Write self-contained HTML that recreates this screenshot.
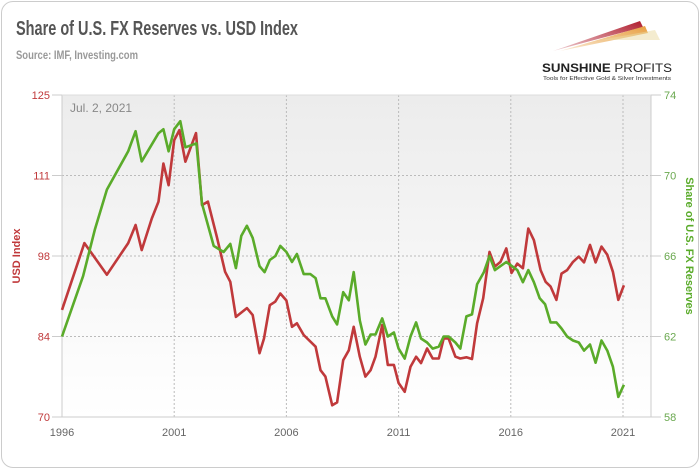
<!DOCTYPE html>
<html><head><meta charset="utf-8"><style>
html,body{margin:0;padding:0;background:#fff;}
body{width:700px;height:469px;overflow:hidden;font-family:"Liberation Sans",sans-serif;}
#card{position:absolute;left:1px;top:1px;width:696px;height:465px;border:1px solid #ccc;border-radius:12px;background:#fff;}
</style></head><body>
<div id="card"></div>
<svg id="chart" width="700" height="469" style="position:absolute;left:0;top:0">
<defs>
<linearGradient id="bg" x1="0" y1="0" x2="0" y2="1"><stop offset="0" stop-color="#ececec"/><stop offset="1" stop-color="#ffffff"/></linearGradient>
<linearGradient id="sw1" x1="0" y1="1" x2="1" y2="0"><stop offset="0" stop-color="#b01e2e" stop-opacity="0.2"/><stop offset="1" stop-color="#b01e2e"/></linearGradient>
<linearGradient id="sw2" x1="0" y1="1" x2="1" y2="0"><stop offset="0" stop-color="#e8a040" stop-opacity="0.2"/><stop offset="1" stop-color="#e8a040"/></linearGradient>
</defs>
<text x="16" y="35" font-size="20" font-weight="bold" fill="#555" textLength="282" lengthAdjust="spacingAndGlyphs">Share of U.S. FX Reserves vs. USD Index</text>
<text x="16" y="59" font-size="12" font-weight="bold" fill="#999" textLength="122" lengthAdjust="spacingAndGlyphs">Source: IMF, Investing.com</text>
<g>
<path d="M553,51 L640,21 L643,27 Z" fill="url(#sw1)"/>
<path d="M560,51 L645,26 L648,33 Z" fill="url(#sw2)"/>
<path d="M600,40 L655,30 L660,40 Z" fill="#e9d9a0" opacity="0.5"/>
<text x="542" y="72" font-size="12" font-weight="bold" fill="#222" textLength="130" lengthAdjust="spacingAndGlyphs">SUNSHINE <tspan font-weight="normal">PROFITS</tspan></text>
<text x="543" y="80" font-size="5.5" fill="#333" textLength="128" lengthAdjust="spacingAndGlyphs">Tools for Effective Gold &amp; Silver Investments</text>
</g>
<rect x="62" y="95" width="589" height="322" fill="url(#bg)"/>
<g id="grid"></g>
<text x="70" y="112" font-size="12" fill="#888">Jul. 2, 2021</text>
<g id="marks"></g>
<text transform="translate(20,256) rotate(-90)" text-anchor="middle" font-size="11" font-weight="bold" fill="#c0393b">USD Index</text>
<text transform="translate(686,246) rotate(90)" text-anchor="middle" font-size="11" font-weight="bold" fill="#5aab2a">Share of U.S. FX Reserves</text>
</svg>
<script>
const usdYears=[1996.0,1997.0,1998.0,1998.95,1999.28,1999.55,2000.0,2000.3,2000.52,2000.75,2001.0,2001.23,2001.5,2001.97,2002.24,2002.5,2002.9,2003.27,2003.5,2003.75,2004.24,2004.5,2004.8,2005.0,2005.26,2005.5,2005.73,2006.0,2006.25,2006.47,2006.77,2007.3,2007.52,2007.74,2008.04,2008.26,2008.53,2008.78,2009.0,2009.27,2009.52,2009.75,2009.97,2010.27,2010.52,2010.79,2011.0,2011.27,2011.53,2011.78,2012.0,2012.27,2012.52,2012.79,2013.01,2013.23,2013.53,2013.75,2014.02,2014.27,2014.5,2014.77,2015.05,2015.29,2015.54,2015.8,2016.03,2016.29,2016.54,2016.78,2017.03,2017.33,2017.55,2017.77,2018.03,2018.26,2018.51,2018.77,2019.03,2019.26,2019.53,2019.78,2020.04,2020.3,2020.55,2020.79,2021.04];
const usdValues=[88.3,99.7,94.3,99.7,102.8,98.5,103.9,106.8,113.3,109.6,117.3,119.0,113.6,118.5,106.2,106.8,100.8,94.8,93.1,87.1,88.6,87.4,80.9,83.4,89.1,89.7,91.1,89.9,85.4,86.0,84.0,82.0,78.0,76.9,72.0,72.5,79.7,81.4,85.4,80.3,76.9,78.0,80.3,85.7,78.9,78.9,75.8,74.3,78.6,80.3,79.2,81.7,80.0,80.0,83.4,83.4,80.3,80.0,80.2,79.9,86.0,90.3,98.2,95.7,96.5,98.8,94.6,96.2,95.4,102.2,100.2,95.1,93.1,92.3,90.0,94.5,95.1,96.5,97.4,96.4,99.4,96.4,99.1,97.7,94.8,90.0,92.5];
const fxYears=[1996.0,1996.94,1997.46,1998.0,1998.95,1999.28,1999.55,2000.3,2000.52,2000.75,2001.0,2001.27,2001.5,2001.99,2002.24,2002.76,2003.2,2003.5,2003.75,2003.99,2004.24,2004.5,2004.8,2005.03,2005.26,2005.51,2005.73,2006.0,2006.25,2006.47,2006.77,2007.07,2007.3,2007.52,2007.74,2008.04,2008.26,2008.53,2008.78,2009.0,2009.27,2009.52,2009.75,2009.97,2010.27,2010.52,2010.79,2011.0,2011.27,2011.53,2011.78,2012.0,2012.27,2012.52,2012.79,2013.01,2013.23,2013.53,2013.75,2014.02,2014.27,2014.5,2014.8,2015.05,2015.29,2015.8,2016.29,2016.54,2016.78,2017.03,2017.29,2017.53,2017.77,2018.03,2018.26,2018.51,2018.77,2019.03,2019.26,2019.53,2019.78,2020.04,2020.3,2020.55,2020.79,2021.04];
const fxValues=[62.0,65.0,67.3,69.3,71.2,72.2,70.7,72.1,72.3,71.2,72.3,72.7,71.4,71.6,68.6,66.5,66.2,66.6,65.4,67.0,67.5,66.9,65.5,65.2,65.8,66.0,66.5,66.2,65.7,66.1,65.1,65.1,64.9,63.9,63.9,63.0,62.6,64.2,63.8,65.2,62.8,61.6,62.1,62.1,62.9,62.0,62.2,61.4,60.9,62.0,62.7,61.9,61.7,61.4,61.5,62.0,62.0,61.7,61.4,63.0,63.1,64.6,65.2,66.0,65.3,65.7,65.3,64.7,65.3,64.7,63.9,63.6,62.7,62.7,62.4,62.0,61.8,61.7,61.3,61.6,60.7,61.8,61.3,60.5,59.0,59.6];
const xTicks=[1996,2001,2006,2011,2016,2021];
const leftTicks=[70,83.75,97.5,111.25,125];
const leftTickLabels=["70","84","98","111","125"];
const rightTicks=[58,62,66,70,74];

const NS="http://www.w3.org/2000/svg";
const L=62,R=651,T=95,B=417;
const x=y=>L+(y-1996)*((623-62)/25);
const yL=v=>B-(v-70)/(125-70)*(B-T);
const yR=v=>B-(v-58)/(74-58)*(B-T);
function mk(tag,attrs,parent){const e=document.createElementNS(NS,tag);for(const k in attrs)e.setAttribute(k,attrs[k]);parent.appendChild(e);return e;}
const grid=document.getElementById('grid');
const marks=document.getElementById('marks');
leftTicks.forEach((t,i)=>{
  const yy=yL(t);
  if(i>0&&i<leftTicks.length-1){const g=mk('line',{x1:L,x2:R,y1:yy,y2:yy,stroke:'#bbb','stroke-dasharray':'2,2'},grid);
  
  }
  const tx=mk('text',{x:50,y:yy+4,'text-anchor':'end','font-size':11,fill:'#c0393b'},grid);
  tx.textContent=leftTickLabels[i];
  
  
  const tk=mk('line',{x1:52,x2:L,y1:yy,y2:yy,stroke:'#ccc'},grid);
  
  
});
rightTicks.forEach(t=>{
  const yy=yR(t);
  const tx=mk('text',{x:664,y:yy+4,'font-size':11,fill:'#6aa84f'},grid);
  tx.textContent=String(t);
  
  
  const tk=mk('line',{x1:R,x2:661,y1:yy,y2:yy,stroke:'#ccc'},grid);
  
  
});
xTicks.forEach(t=>{
  const xx=x(t);
  if(t>1996){const g=mk('line',{x1:xx,x2:xx,y1:T,y2:B,stroke:'#bbb','stroke-dasharray':'2,2'},grid);
  
  }
  const tx=mk('text',{x:xx,y:436,'text-anchor':'middle','font-size':11,fill:'#666'},grid);
  tx.textContent=String(t);
  
  
});
const ax=[mk('line',{x1:L,x2:L,y1:T,y2:B,stroke:'#ccc'},grid),mk('line',{x1:R,x2:R,y1:T,y2:B,stroke:'#ccc'},grid),mk('line',{x1:L,x2:R,y1:B,y2:B,stroke:'#ccc'},grid),mk('line',{x1:L,x2:R,y1:T,y2:T,stroke:'#ddd'},grid)];
ax.forEach(a=>{
  
  
});
const pUsd=mk('polyline',{points:usdYears.map((t,i)=>x(t).toFixed(1)+','+yL(usdValues[i]).toFixed(1)).join(' '),fill:'none',stroke:'#c0393b','stroke-width':2.6,'stroke-linejoin':'round'},marks);


const pFx=mk('polyline',{points:fxYears.map((t,i)=>x(t).toFixed(1)+','+yR(fxValues[i]).toFixed(1)).join(' '),fill:'none',stroke:'#5aab2a','stroke-width':2.6,'stroke-linejoin':'round'},marks);


</script>
</body></html>
